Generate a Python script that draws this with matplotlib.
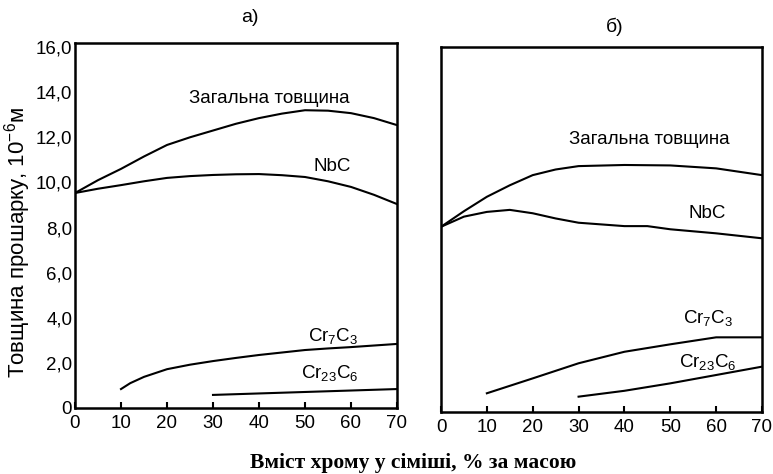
import matplotlib
matplotlib.use("Agg")
import matplotlib.pyplot as plt

plt.rcParams["font.family"] = ["Liberation Sans", "DejaVu Sans"]
plt.rcParams["mathtext.fontset"] = "custom"
plt.rcParams["mathtext.rm"] = "Liberation Sans"
plt.rcParams["mathtext.it"] = "Liberation Sans"

# а) ---------------------------------------------------------------
a_total_x = [0, 5, 10, 15, 20, 25, 30, 35, 40, 45, 50, 55, 60, 65, 70]
a_total_y = [9.53, 10.1, 10.6, 11.15, 11.66, 12.0, 12.3, 12.6, 12.85, 13.05, 13.2, 13.18, 13.07, 12.85, 12.54]
a_nbc_x = [0, 5, 10, 15, 20, 25, 30, 35, 40, 45, 50, 55, 60, 65, 70]
a_nbc_y = [9.53, 9.72, 9.88, 10.05, 10.2, 10.28, 10.33, 10.36, 10.37, 10.32, 10.24, 10.05, 9.8, 9.45, 9.04]
a_cr7_x = [10, 12, 15, 20, 25, 30, 35, 40, 45, 50, 55, 60, 65, 70]
a_cr7_y = [0.84, 1.1, 1.38, 1.72, 1.92, 2.08, 2.22, 2.35, 2.46, 2.57, 2.64, 2.7, 2.77, 2.84]
a_cr23_x = [30, 50, 70]
a_cr23_y = [0.58, 0.71, 0.84]

# б) ---------------------------------------------------------------
b_total_x = [0, 5, 10, 15, 20, 25, 30, 40, 50, 60, 70]
b_total_y = [8.21, 8.9, 9.54, 10.05, 10.5, 10.75, 10.9, 10.95, 10.93, 10.8, 10.5]
b_nbc_x = [0, 5, 10, 15, 20, 25, 30, 40, 45, 50, 60, 70]
b_nbc_y = [8.21, 8.66, 8.87, 8.96, 8.81, 8.58, 8.39, 8.24, 8.24, 8.1, 7.92, 7.7]
b_cr7_x = [10, 20, 30, 40, 50, 60, 70]
b_cr7_y = [0.83, 1.49, 2.16, 2.67, 3.0, 3.31, 3.31]
b_cr23_x = [30, 40, 50, 60, 70]
b_cr23_y = [0.68, 0.94, 1.27, 1.64, 2.01]

x_ticks = [0, 10, 20, 30, 40, 50, 60, 70]
y_ticks = [0, 2, 4, 6, 8, 10, 12, 14, 16]
y_tick_labels = ["0", "2,0", "4,0", "6,0", "8,0", "10,0", "12,0", "14,0", "16,0"]

W, H = 773, 474
fig = plt.figure(figsize=(W / 100, H / 100), dpi=100)
ax1 = fig.add_axes([75 / W, 1 - 408 / H, 322 / W, 365 / H])
ax2 = fig.add_axes([441 / W, 1 - 412 / H, 321 / W, 365 / H])

fs = 13.5
for ax in (ax1, ax2):
    ax.set_xlim(0, 70)
    ax.set_ylim(0, 16.18)
    for s in ax.spines.values():
        s.set_linewidth(1.8)
    ax.set_xticks(x_ticks)
    ax.tick_params(axis="x", direction="in", length=4, width=1.5, labelsize=fs, pad=5)
    ax.tick_params(axis="y", length=0, labelsize=fs, pad=2)

ax1.set_yticks(y_ticks)
ax1.set_yticklabels(y_tick_labels)
ax2.set_yticks([])

lw = 1.5
ax1.plot(a_total_x, a_total_y, color="black", lw=lw)
ax1.plot(a_nbc_x, a_nbc_y, color="black", lw=lw)
ax1.plot(a_cr7_x, a_cr7_y, color="black", lw=lw)
ax1.plot(a_cr23_x, a_cr23_y, color="black", lw=lw)

ax2.plot(b_total_x, b_total_y, color="black", lw=lw)
ax2.plot(b_nbc_x, b_nbc_y, color="black", lw=lw)
ax2.plot(b_cr7_x, b_cr7_y, color="black", lw=lw)
ax2.plot(b_cr23_x, b_cr23_y, color="black", lw=lw)

ax1.text(42.2, 13.74, "Загальна товщина", fontsize=fs, ha="center", va="center")
ax1.text(56.0, 10.7, "NbC", fontsize=fs, ha="center", va="center")
ax1.text(56.1, 3.19, "Cr$_7$C$_3$", fontsize=fs, ha="center", va="center")
ax1.text(55.4, 1.55, "Cr$_{23}$C$_6$", fontsize=fs, ha="center", va="center")

ax2.text(45.4, 12.06, "Загальна товщина", fontsize=fs, ha="center", va="center")
ax2.text(58.1, 8.82, "NbC", fontsize=fs, ha="center", va="center")
ax2.text(58.2, 4.16, "Cr$_7$C$_3$", fontsize=fs, ha="center", va="center")
ax2.text(58.2, 2.22, "Cr$_{23}$C$_6$", fontsize=fs, ha="center", va="center")

fig.text(250 / W, 1 - 18 / H, "а)", fontsize=14, ha="center", va="center")
fig.text(615 / W, 1 - 27 / H, "б)", fontsize=14, ha="center", va="center")
fig.text(18 / W, 1 - 242 / H, "Товщина прошарку, 10$^{-6}$м", fontsize=16,
         rotation=90, ha="center", va="center")
fig.text(413 / W, 1 - 463 / H, "Вміст хрому у сіміші, % за масою", fontsize=15.5,
         family="Liberation Serif", weight="bold", ha="center", va="center")

fig.savefig("out.png", dpi=100)
